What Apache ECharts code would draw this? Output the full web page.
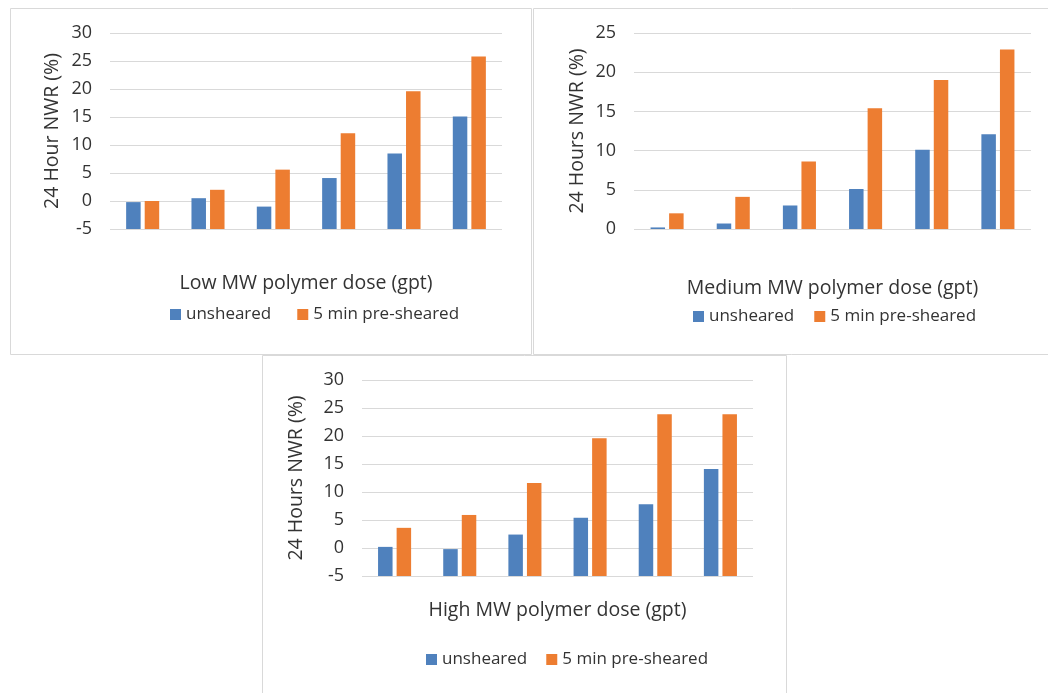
<!DOCTYPE html>
<html>
<head>
<meta charset="utf-8">
<script src="https://cdn.jsdelivr.net/npm/echarts@6/dist/echarts.min.js"></script>
<style>
  html, body { margin: 0; padding: 0; background: #fff; }
  #chart-container { width: 1048px; height: 693px; }
</style>
</head>
<body>
<div id="chart-container"></div>
<script>
// six dose levels, not labelled on the axis
const doseSlots = ["d1", "d2", "d3", "d4", "d5", "d6"];
const seriesNames = ["unsheared", "5 min pre-sheared"];

const lowUnsheared = [-0.2, 0.5, -1.0, 4.1, 8.5, 15.1];
const lowSheared = [0.0, 2.0, 5.6, 12.1, 19.6, 25.8];
const medUnsheared = [0.2, 0.7, 3.0, 5.1, 10.1, 12.1];
const medSheared = [2.0, 4.1, 8.6, 15.4, 19.0, 22.9];
const highUnsheared = [0.2, -0.2, 2.4, 5.4, 7.8, 14.1];
const highSheared = [3.6, 5.9, 11.6, 19.6, 23.9, 23.9];

const lowTicks = [-5, 30];
const medTicks = [0, 25];
const highTicks = [-5, 30];

const blue = "#4F81BD";
const orange = "#ED7D31";
const gridGray = "#D9D9D9";
const textColor = "#333333";
const font = "Open Sans";

// bars in the source grow from the bottom of the axis, not from zero,
// so values are measured from the axis floor and the labels put back
const panels = [
  { grid: { left: 110, top: 33, width: 392, height: 196 }, ticks: lowTicks,
    yName: "24 Hour NWR (%)", yGap: 48, xName: "Low MW polymer dose (gpt)", xGap: 44,
    data: [lowUnsheared, lowSheared], legend: { left: 170, top: 306, itemGap: 26 } },
  { grid: { left: 634, top: 33, width: 397, height: 196 }, ticks: medTicks,
    yName: "24 Hours NWR (%)", yGap: 47, xName: "Medium MW polymer dose (gpt)", xGap: 49,
    data: [medUnsheared, medSheared], legend: { left: 693, top: 308, itemGap: 20 } },
  { grid: { left: 362, top: 380, width: 391, height: 196 }, ticks: highTicks,
    yName: "24 Hours NWR (%)", yGap: 56, xName: "High MW polymer dose (gpt)", xGap: 24,
    data: [highUnsheared, highSheared], legend: { left: 426, top: 651, itemGap: 19 } },
];

let option = {
  animation: false,
  textStyle: { fontFamily: font },
  grid: panels.map((p) => p.grid),
  xAxis: panels.map((p, i) => ({
    type: "category",
    gridIndex: i,
    data: doseSlots,
    boundaryGap: true,
    axisLine: { show: false },
    axisTick: { show: false },
    axisLabel: { show: false },
    name: p.xName,
    nameLocation: "middle",
    nameGap: p.xGap,
    nameTextStyle: { fontSize: 19.5, color: textColor, fontFamily: font },
  })),
  yAxis: panels.map((p, i) => ({
    type: "value",
    gridIndex: i,
    min: 0,
    max: p.ticks[1] - p.ticks[0],
    interval: 5,
    axisLine: { show: false },
    axisTick: { show: false },
    axisLabel: {
      fontSize: 18,
      color: textColor,
      margin: 18,
      formatter: (v) => String(v + p.ticks[0]),
    },
    splitLine: { lineStyle: { color: gridGray, width: 1 } },
    name: p.yName,
    nameLocation: "middle",
    nameGap: p.yGap,
    nameTextStyle: { fontSize: 19.5, color: textColor, fontFamily: font },
  })),
  legend: panels.map((p) => ({
    data: seriesNames,
    left: p.legend.left,
    top: p.legend.top,
    padding: 0,
    itemGap: p.legend.itemGap,
    itemWidth: 11,
    itemHeight: 11,
    icon: "rect",
    textStyle: { fontSize: 17, color: textColor, fontFamily: font },
  })),
  series: [],
  graphic: [
    { type: "rect", shape: { x: 10.5, y: 8.5, width: 521, height: 346 },
      style: { fill: "none", stroke: gridGray, lineWidth: 1 } },
    { type: "rect", shape: { x: 533.5, y: 8.5, width: 520, height: 346 },
      style: { fill: "none", stroke: gridGray, lineWidth: 1 } },
    { type: "rect", shape: { x: 262.5, y: 355.5, width: 524, height: 345 },
      style: { fill: "none", stroke: gridGray, lineWidth: 1 } },
  ],
};

panels.forEach((p, i) => {
  p.data.forEach((vals, k) => {
    option.series.push({
      name: seriesNames[k],
      type: "bar",
      xAxisIndex: i,
      yAxisIndex: i,
      barWidth: 14.5,
      barGap: "28%",
      itemStyle: { color: k === 0 ? blue : orange },
      data: vals.map((v) => v - p.ticks[0]),
    });
  });
});

const paintChart = () => {
  let dom = document.getElementById("chart-container");
  let myChart = echarts.init(dom, null, { renderer: "canvas" });
  myChart.setOption(option);
  window.addEventListener("resize", () => myChart.resize());
};
paintChart();
</script>
</body>
</html>
